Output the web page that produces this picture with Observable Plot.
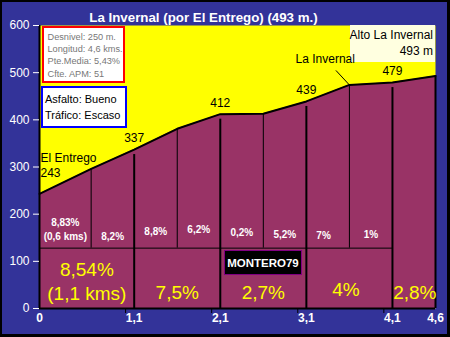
<!DOCTYPE html>
<html><head><meta charset="utf-8">
<script src="https://cdn.jsdelivr.net/npm/d3@7"></script>
<script src="https://cdn.jsdelivr.net/npm/@observablehq/plot@0.6"></script>
<style>
html,body{margin:0;padding:0;background:#333399;}
#chart svg{display:block;}
</style></head><body><div id="chart"></div>
<script>
const km = [0, 0.6, 1.1, 1.6, 2.1, 2.6, 3.1, 3.6, 4.1, 4.6];
const alt = [243, 296, 337, 381, 412, 413, 439, 474, 479, 493];
const majorKm = [1.1, 2.1, 3.1, 4.1];
const minorKm = [0.6, 1.6, 2.6, 3.6];
const endKm = [4.6];
const splitAlt = 128;
const segText = ["8,83%", "(0,6 kms)", "8,2%", "8,8%", "6,2%", "0,2%", "5,2%", "7%", "1%"];
const segKm = [0.3, 0.3, 0.85, 1.35, 1.85, 2.35, 2.85, 3.3, 3.85];
const segAlt = [181, 151, 151, 162, 166, 160, 157, 155, 157];
const bigText = ["8,54%", "(1,1 kms)", "7,5%", "2,7%", "4%", "2,8%"];
const bigKm = [0.55, 0.55, 1.6, 2.6, 3.56, 4.36];
const bigAlt = [81, 32, 34, 34, 40, 34];
const peakKm = [1.1, 2.1, 3.1, 4.1];
const peakAlt = [337, 412, 439, 479];
const startName = "El Entrego";
const startAlt = "243";
const summitName = "La Invernal";
const xTicks = [0, 1.1, 2.1, 3.1, 4.1, 4.6];
const xTickLabels = ["0", "1,1", "2,1", "3,1", "4,1", "4,6"];
const xMinorTicks = [1, 2, 3, 4];
const yTicks = [0, 100, 200, 300, 400, 500, 600];
const title = "La Invernal (por El Entrego) (493 m.)";
const infoLines = ["Desnivel: 250 m.", "Longitud: 4,6 kms.", "Pte.Media: 5,43%", "Cfte. APM: 51"];
const roadLines = ["Asfalto: Bueno", "Tráfico: Escaso"];
const summitLines = ["Alto La Invernal", "493 m"];
const watermark = "MONTERO79";

const profile = km.map((k, i) => ({km: k, alt: alt[i]}));
const altAt = k => alt[km.indexOf(k)];
const seg = segText.map((t, i) => ({t, km: segKm[i], alt: segAlt[i]}));
const big = bigText.map((t, i) => ({t, km: bigKm[i], alt: bigAlt[i]}));
const peaks = peakKm.map((k, i) => ({km: k, alt: peakAlt[i]}));

const chart = Plot.plot({
  width: 450, height: 337,
  marginLeft: 39, marginRight: 15, marginTop: 25, marginBottom: 29,
  style: {background: "#333399", fontFamily: "Liberation Sans, Arial, sans-serif", overflow: "visible"},
  x: {domain: [0, 4.6], label: null},
  y: {domain: [0, 600], label: null},
  marks: [
    Plot.frame({fill: "#ffff00", stroke: null}),
    Plot.areaY(profile, {x: "km", y: "alt", fill: "#993366"}),
    Plot.ruleY([splitAlt], {x1: 0, x2: 4.1, stroke: "black", strokeWidth: 1}),
    Plot.ruleX(minorKm, {x: d => d, y1: splitAlt, y2: altAt, stroke: "black", strokeWidth: 1}),
    Plot.ruleX(majorKm, {x: d => d, y1: 0, y2: altAt, stroke: "black", strokeWidth: 2, insetBottom: -5}),
    Plot.ruleX(endKm, {x: d => d, y1: 0, y2: altAt, stroke: "black", strokeWidth: 2}),
    Plot.line(profile, {x: "km", y: "alt", stroke: "black", strokeWidth: 2}),
    Plot.ruleX([0], {y1: 0, y2: 600, stroke: "black", strokeWidth: 2}),
    Plot.ruleY([0], {x1: 0, x2: 4.6, stroke: "black", strokeWidth: 2}),
    Plot.axisY({ticks: yTicks, tickSize: 6, tickPadding: 4, color: "white", fontSize: 12, label: null}),
    Plot.axisX({ticks: xMinorTicks, tickSize: 5, stroke: "black", tickFormat: () => "", label: null}),
    Plot.axisX({ticks: xTicks, tickSize: 0, tickPadding: 5, fill: "white", fontWeight: "bold", fontSize: 12, label: null,
      tickFormat: d => xTickLabels[xTicks.indexOf(d)]}),
    Plot.text(seg, {x: "km", y: "alt", text: "t", fill: "white", fontWeight: "bold", fontSize: 10}),
    Plot.text(big, {x: "km", y: "alt", text: "t", fill: "#ffff00", fontSize: 19}),
    Plot.text(peaks, {x: "km", y: "alt", text: d => String(d.alt), dy: -11, fill: "black", fontSize: 12}),
    Plot.text([startName], {x: 0, y: altAt(0), dx: 1, dy: -36, textAnchor: "start", fill: "black", fontSize: 12}),
    Plot.text([startAlt], {x: 0, y: altAt(0), dx: 1, dy: -21, textAnchor: "start", fill: "black", fontSize: 12}),
    Plot.text([title], {frameAnchor: "top-left", dx: 164, dy: -8, textAnchor: "middle", lineAnchor: "middle", fill: "white", fontWeight: "bold", fontSize: 13.3})
  ]
});
document.getElementById("chart").appendChild(chart);

const svg = d3.select(chart);
const sx = chart.scale("x"), sy = chart.scale("y");

function box(x, y, w, h, fill, stroke, sw) {
  svg.append("rect").attr("x", x).attr("y", y).attr("width", w).attr("height", h)
    .attr("fill", fill).attr("stroke", stroke).attr("stroke-width", sw);
}
function lines(arr, x, y0, step, size, color, anchor, weight) {
  arr.forEach((t, i) => svg.append("text").attr("x", x).attr("y", y0 + i * step)
    .attr("font-size", size).attr("fill", color).attr("text-anchor", anchor || "start")
    .attr("font-weight", weight || "normal")
    .attr("font-family", "Liberation Sans, Arial, sans-serif").text(t));
}
box(43, 27, 81, 55, "white", "#ff0000", 2);
lines(infoLines, 47.5, 39.5, 12.4, 9.2, "#777777");
box(42, 87, 84, 40, "white", "#0000ff", 2);
lines(roadLines, 45, 103, 15.5, 11, "black");
box(350, 25, 85, 37, "#ffffe0", "none", 0);
lines(summitLines, 433, 38.5, 16, 12, "black", "end");
// summit label with leader line (drawn over the box, as in the reference)
const px = sx.apply(3.6), py = sy.apply(altAt(3.6));
svg.append("line").attr("x1", px - 13).attr("y1", py - 14).attr("x2", px).attr("y2", py)
  .attr("stroke", "black").attr("stroke-width", 1);
lines([summitName], px + 6, py - 21, 0, 12, "black", "end");
box(224.5, 250.5, 77, 24, "black", "#800080", 1);
lines([watermark], 263, 266.5, 0, 11.5, "white", "middle", "bold");
box(0.5, 0.5, 448, 335, "none", "black", 3);
</script></body></html>
